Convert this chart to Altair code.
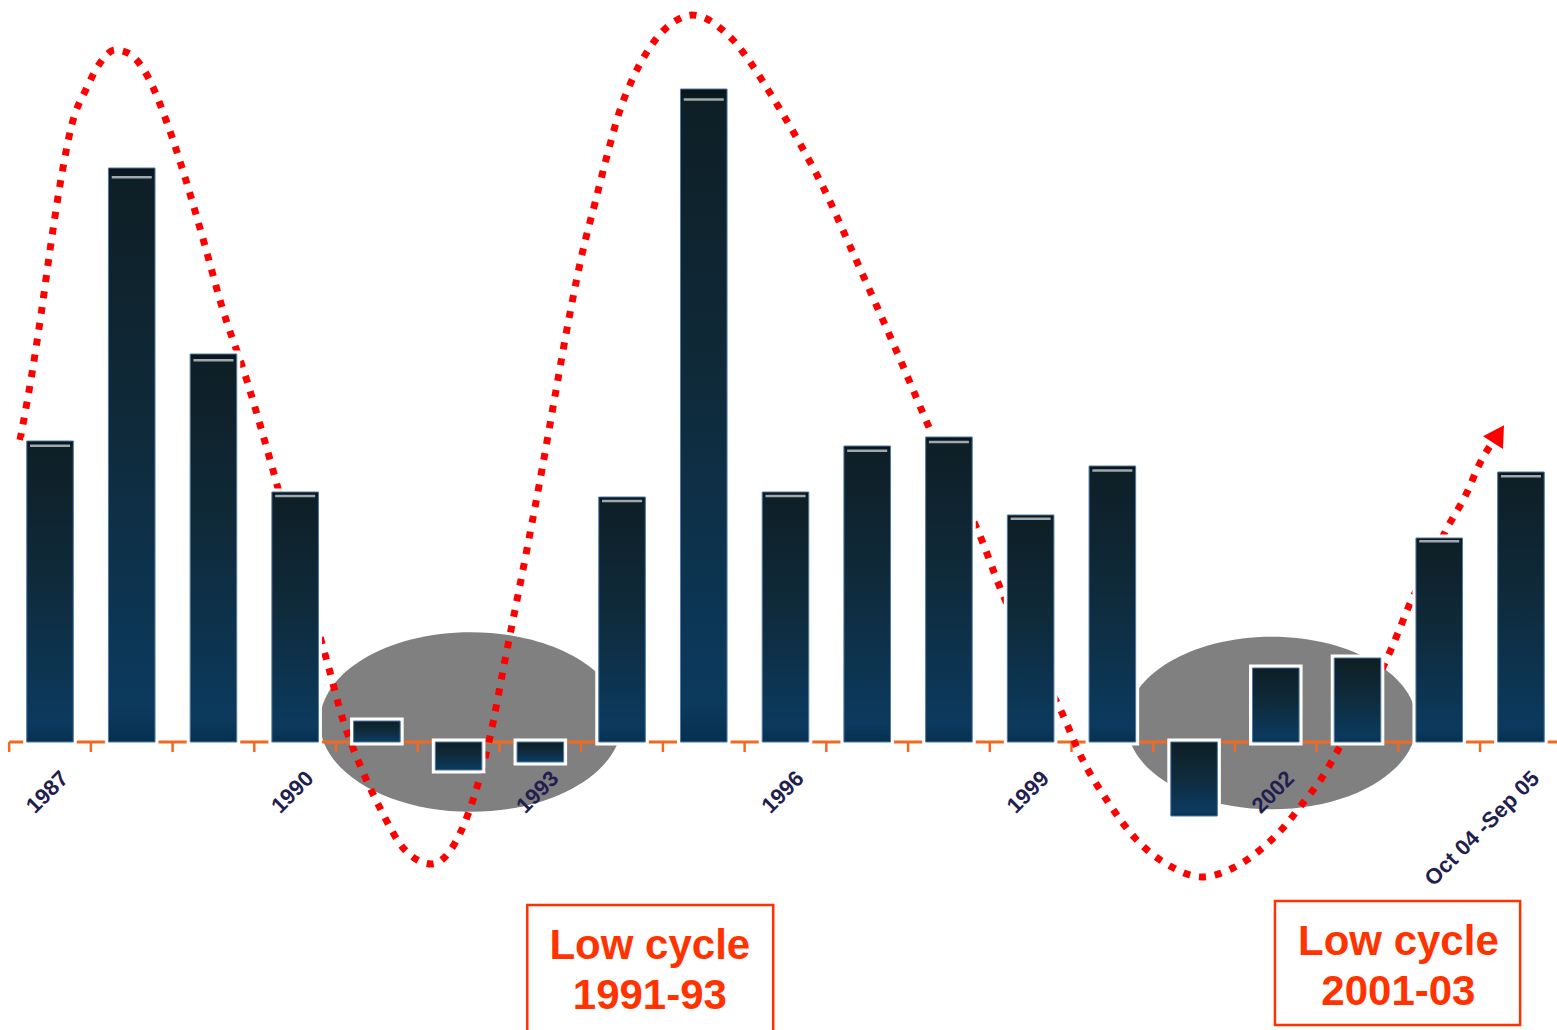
import math

import altair as alt
import pandas as pd

# ---------------------------------------------------------------------------
# Data
# ---------------------------------------------------------------------------
periods = ["1987", "1988", "1989", "1990", "1991", "1992", "1993", "1994",
           "1995", "1996", "1997", "1998", "1999", "2000", "2001", "2002",
           "2003", "2004", "Oct 04 -Sep 05"]
values = [3.01, 5.74, 3.88, 2.50, 0.21, -0.28, -0.20, 2.45,
          6.53, 2.50, 2.96, 3.05, 2.27, 2.76, -0.74, 0.74,
          0.84, 2.04, 2.70]

# Cycle trend drawn through the bars (x in period-index units)
trend_x = [-0.367, -0.224, -0.102, 0.000, 0.122, 0.266, 0.449, 0.612, 0.795,
           0.954, 1.199, 1.428, 1.673, 1.897, 2.101, 2.407, 2.631, 3.022,
           3.402, 3.585, 3.793, 4.038, 4.344, 4.671, 4.956, 5.176, 5.384,
           5.568, 5.837, 6.017, 6.188, 6.363, 6.522, 6.669, 6.812, 6.975,
           7.122, 7.305, 7.501, 7.673, 7.856, 8.040, 8.199, 8.358, 8.566,
           8.811, 9.117, 9.484, 9.810, 10.116, 10.438, 10.744, 11.050,
           11.356, 11.662, 12.017, 12.384, 12.625, 12.931, 13.277, 13.705,
           14.097, 14.476, 14.807, 15.088, 15.333, 15.562, 15.761, 16.030,
           16.312, 16.495, 16.618, 16.850, 17.071, 17.336, 17.499, 17.725]
trend_y = [3.02, 3.67, 4.32, 4.92, 5.57, 6.17, 6.54, 6.79, 6.92,
           6.89, 6.65, 6.20, 5.59, 4.96, 4.36, 3.62, 3.00, 1.85,
           0.77, 0.22, -0.23, -0.66, -1.08, -1.22, -1.01, -0.58, 0.05,
           0.82, 1.93, 2.71, 3.50, 4.29, 4.92, 5.39, 5.85, 6.32,
           6.62, 6.90, 7.11, 7.22, 7.27, 7.23, 7.14, 7.02, 6.80,
           6.49, 6.07, 5.51, 4.92, 4.36, 3.76, 3.17, 2.62,
           2.11, 1.47, 0.87, 0.29, -0.16, -0.58, -0.96, -1.24,
           -1.35, -1.26, -1.08, -0.86, -0.61, -0.36, -0.08, 0.34,
           0.75, 1.09, 1.34, 1.72, 2.10, 2.49, 2.79, 3.08]

# Low-cycle call-outs
note_lines = [["Low cycle", "1991-93"], ["Low cycle", "2001-03"]]

# ---------------------------------------------------------------------------
# Layout and styling
# ---------------------------------------------------------------------------
W, H = 1557, 1030
X_DOMAIN = [-0.612, 18.441]
Y_DOMAIN = [-2.88, 7.42]
PX_PER_X = W / (X_DOMAIN[1] - X_DOMAIN[0])
PX_PER_Y = H / (Y_DOMAIN[1] - Y_DOMAIN[0])

ORANGE = "#f26a21"
RED = "#ff0000"
NOTE_RED = "#ff3300"
LABEL_NAVY = "#221e50"
FONT = "Liberation Sans"

xs = alt.Scale(domain=X_DOMAIN, nice=False, zero=False)
ys = alt.Scale(domain=Y_DOMAIN, nice=False, zero=False)


def X(field):
    return alt.X(field, type="quantitative", scale=xs, axis=None)


def Y(field):
    return alt.Y(field, type="quantitative", scale=ys, axis=None)


bar_df = pd.DataFrame({"period": periods, "value": values,
                       "idx": list(range(len(periods)))})
bar_df["base"] = 0.0
bar_df["x0"] = bar_df["idx"] - 0.285
bar_df["x1"] = bar_df["idx"] + 0.285

# --- grey halos behind the low-cycle years --------------------------------
def ellipse_path(ratio):
    k = 0.5523
    a, b = k * ratio, ratio
    return (f"M-1,0C-1,{-a:.4f} {-k},{-b:.4f} 0,{-b:.4f}"
            f"C{k},{-b:.4f} 1,{-a:.4f} 1,0"
            f"C1,{a:.4f} {k},{b:.4f} 0,{b:.4f}"
            f"C{-k},{b:.4f} -1,{a:.4f} -1,0Z")


halo_df = pd.DataFrame({"cx": [5.15, 14.95], "cy": [0.20, 0.19],
                        "area": [302 ** 2, 290 ** 2]})
halos = alt.Chart(halo_df).mark_point(
    shape=ellipse_path(0.595), filled=True, color="#808080", opacity=1,
    strokeWidth=0,
).encode(x=X("cx"), y=Y("cy"),
         size=alt.Size("area:Q", scale=None, legend=None))

# --- orange category axis along zero --------------------------------------
axis_df = pd.DataFrame({"x0": [-0.5], "x1": [X_DOMAIN[1]], "y": [0.0]})
axis_line = alt.Chart(axis_df).mark_rule(color=ORANGE, strokeWidth=3).encode(
    x=X("x0"), x2="x1", y=Y("y"))

tick_df = pd.DataFrame({"tx": [i - 0.5 for i in range(len(periods) + 1)]})
tick_df["t0"] = 0.0
tick_df["t1"] = -0.10
ticks = alt.Chart(tick_df).mark_rule(color=ORANGE, strokeWidth=2.5).encode(
    x=X("tx"), y=Y("t0"), y2="t1")

# --- dotted cycle trend with arrow head -----------------------------------
trend_df = pd.DataFrame({"x": trend_x, "y": trend_y})
trend = alt.Chart(trend_df).mark_line(
    color=RED, strokeWidth=7, strokeDash=[7, 9], strokeCap="butt",
    interpolate="monotone",
).encode(x=X("x"), y=Y("y"))

dx_px = (trend_x[-1] - trend_x[-2]) * PX_PER_X
dy_px = (trend_y[-1] - trend_y[-2]) * PX_PER_Y
arrow_angle = math.degrees(math.atan2(dx_px, dy_px)) % 360
arrow = alt.Chart(trend_df.tail(1)).mark_point(
    shape="triangle-up", filled=True, color=RED, opacity=1, size=560,
    angle=arrow_angle,
).encode(x=X("x"), y=Y("y"))

# --- bars ------------------------------------------------------------------
bar_halo = alt.Chart(bar_df).mark_bar(
    color="white", stroke="white", strokeWidth=7).encode(
    x=X("x0"), x2="x1", y=Y("value"), y2="base")

bar_fill = alt.Gradient(
    gradient="linear", x1=0, x2=0, y1=0, y2=1,
    stops=[alt.GradientStop(color="#06121a", offset=0),
           alt.GradientStop(color="#0e1f26", offset=0.02),
           alt.GradientStop(color="#0f2a3a", offset=0.45),
           alt.GradientStop(color="#0b3a5e", offset=0.94),
           alt.GradientStop(color="#07304f", offset=1)])
bars = alt.Chart(bar_df).mark_bar(
    fill=bar_fill, stroke="#4d79a8", strokeWidth=1).encode(
    x=X("x0"), x2="x1", y=Y("value"), y2="base",
    tooltip=["period:N", "value:Q"])

shine = alt.Chart(bar_df).transform_filter(
    "datum.value > 1.5"
).transform_calculate(
    hl="datum.value * 0.984", h0="datum.idx - 0.245", h1="datum.idx + 0.245"
).mark_rule(color="#a0a8ab", strokeWidth=2.5).encode(
    x=X("h0"), x2="h1", y=Y("hl"))

# --- period labels every third year ----------------------------------------
labels = alt.Chart(bar_df).transform_filter(
    "datum.idx % 3 == 0"
).transform_calculate(
    lx="datum.idx + 0.18", ly="-0.33"
).mark_text(
    angle=315, align="right", baseline="middle", font=FONT, fontSize=22,
    fontWeight="bold", color=LABEL_NAVY,
).encode(x=X("lx"), y=Y("ly"), text="period:N")

# --- low-cycle call-out boxes ----------------------------------------------
box_df = pd.DataFrame({"x0": [5.84, 14.99], "x1": [8.85, 17.99],
                       "top": [-1.63, -1.59], "bottom": [-2.98, -2.83]})
boxes = alt.Chart(box_df).mark_rect(
    fill="white", stroke=NOTE_RED, strokeWidth=2.5).encode(
    x=X("x0"), x2="x1", y=Y("top"), y2="bottom")

note_rows = []
for (first, second), cx, y1 in zip(note_lines, [7.34, 16.50], [-2.17, -2.13]):
    note_rows.append({"text": first, "x": cx, "y": y1})
    note_rows.append({"text": second, "x": cx, "y": y1 - 0.495})
notes = alt.Chart(pd.DataFrame(note_rows)).mark_text(
    align="center", baseline="alphabetic", font=FONT, fontSize=42,
    fontWeight="bold", color=NOTE_RED,
).encode(x=X("x"), y=Y("y"), text="text:N")

chart = alt.layer(
    halos, axis_line, ticks, trend, arrow, bar_halo, bars, shine, labels,
    boxes, notes,
).properties(
    width=W, height=H, padding=0,
    autosize=alt.AutoSizeParams(type="none"),
    background="white",
).configure_view(strokeWidth=0)

chart.save("out.html", embed_options={"renderer": "svg", "actions": False})
